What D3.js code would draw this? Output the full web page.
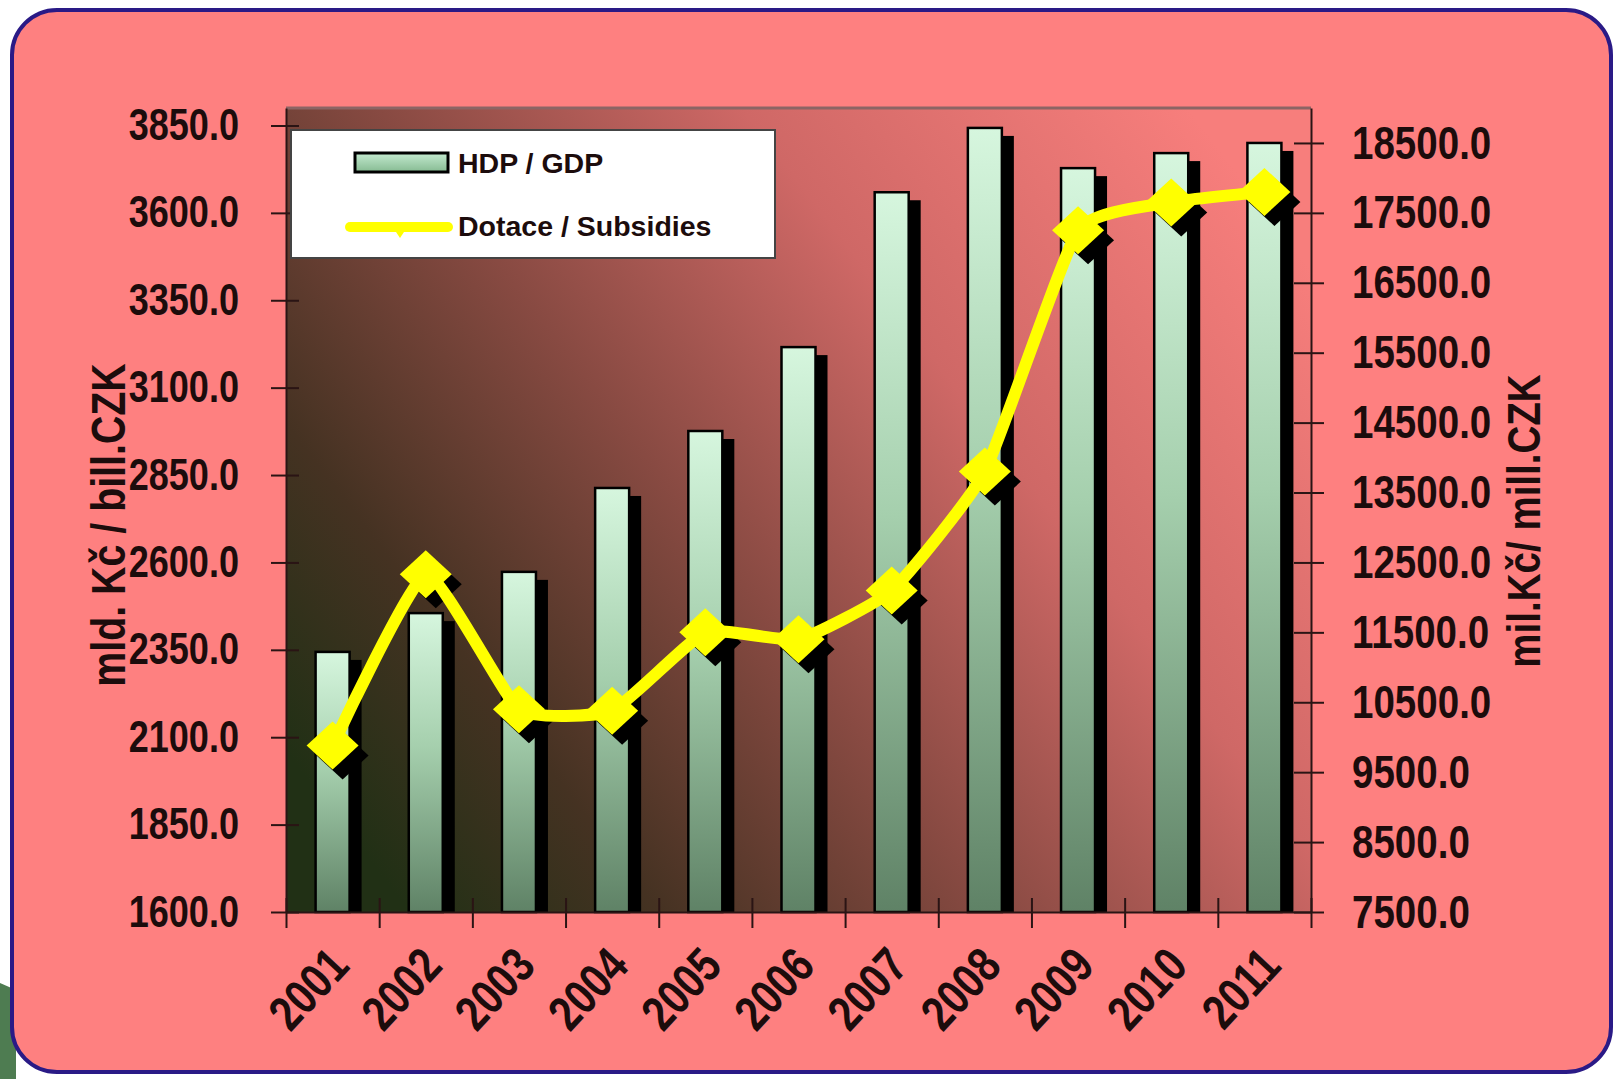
<!DOCTYPE html>
<head>
  <meta charset="utf-8">
  <script src="https://d3js.org/d3.v7.min.js"></script>
  <style>
    body { margin:0; background:#fff; }
    text { font-family: "Liberation Sans", Arial, sans-serif; font-weight: bold; fill: #1c0c0c; }
  </style>
</head>

<body>
<script>
  // data
  var years = ["2001", "2002", "2003", "2004", "2005", "2006", "2007", "2008", "2009", "2010", "2011"];
  var gdp = [2344, 2455, 2573, 2813, 2976, 3216, 3659, 3843, 3728, 3771, 3800];
  var subsidies = [9880, 12330, 10400, 10380, 11500, 11400, 12100, 13800, 17250, 17650, 17800];
  var leftTicks = [1600, 1850, 2100, 2350, 2600, 2850, 3100, 3350, 3600, 3850];
  var rightTicks = [7500, 8500, 9500, 10500, 11500, 12500, 13500, 14500, 15500, 16500, 17500, 18500];
  var seriesNames = ["HDP / GDP", "Dotace / Subsidies"];
  var axisTitles = ["mld. Kč / bill.CZK", "mil.Kč/ mill.CZK"];

  var W = 1616, H = 1079;
  var plot = {left: 286, top: 108, right: 1311, bottom: 912};
  var width = plot.right - plot.left,
      height = plot.bottom - plot.top;
  var narrow = 0.82; // no Arial Narrow here, squeeze Liberation Sans instead

  var svg = d3.select("body").append("svg")
    .attr("width", W)
    .attr("height", H);

  var defs = svg.append("defs");

  // plot background: dark on the left, pink on the right
  var bg = defs.append("linearGradient").attr("id", "plotBg")
    .attr("x1", 0).attr("y1", 0.8).attr("x2", 1).attr("y2", 0.2);
  [[0, "#213015"], [0.18, "#453222"], [0.42, "#884a42"], [0.68, "#cf6866"], [1, "#f77e7c"]].forEach(function(s) {
    bg.append("stop").attr("offset", s[0]).attr("stop-color", s[1]);
  });

  var barGrad = defs.append("linearGradient").attr("id", "barGrad")
    .attr("x1", 0).attr("y1", 0).attr("x2", 0).attr("y2", 1);
  [[0, "#d6f6de"], [0.45, "#a5cfad"], [1, "#5f8266"]].forEach(function(s) {
    barGrad.append("stop").attr("offset", s[0]).attr("stop-color", s[1]);
  });

  var legGrad = defs.append("linearGradient").attr("id", "legGrad")
    .attr("x1", 0).attr("y1", 0).attr("x2", 0).attr("y2", 1);
  legGrad.append("stop").attr("offset", 0).attr("stop-color", "#c4ead0");
  legGrad.append("stop").attr("offset", 1).attr("stop-color", "#86bb92");

  // bit of green slide background peeking out bottom-left
  svg.append("path")
    .attr("d", "M0,983 L16,990 L16,1079 L0,1079 Z")
    .attr("fill", "#4e7c51");

  // rounded slide frame
  svg.append("rect")
    .attr("x", 12).attr("y", 10)
    .attr("width", 1599).attr("height", 1062)
    .attr("rx", 45)
    .attr("fill", "#fe8080")
    .attr("stroke", "#2a1a86")
    .attr("stroke-width", 4);

  var g = svg.append("g")
    .attr("transform", "translate(" + plot.left + "," + plot.top + ")");

  var x = d3.scaleBand().domain(years).range([0, width]);
  var xEdge = d3.scaleLinear().domain([0, years.length]).range([0, width]);
  var yL = d3.scaleLinear().domain([1600, 3900]).range([height, 0]);
  var yR = d3.scaleLinear().domain([7500, 19000]).range([height, 0]);
  var cx = function(i) { return x(years[i]) + x.bandwidth() / 2; };

  g.append("rect")
    .attr("width", width)
    .attr("height", height)
    .attr("fill", "url(#plotBg)");

  g.append("line")
    .attr("x1", 0).attr("x2", width)
    .attr("y1", 0).attr("y2", 0)
    .attr("stroke", "#8c6464")
    .attr("stroke-width", 3);

  // bars + their drop shadows
  var bw = 34;
  g.selectAll(".barShadow")
    .data(gdp)
    .enter().append("rect")
    .attr("class", "barShadow")
    .attr("x", function(d, i) { return cx(i) - bw / 2 + 12; })
    .attr("y", function(d) { return yL(d) + 8; })
    .attr("width", bw)
    .attr("height", function(d) { return height - yL(d) - 8; })
    .attr("fill", "#000");

  g.selectAll(".bar")
    .data(gdp)
    .enter().append("rect")
    .attr("class", "bar")
    .attr("x", function(d, i) { return cx(i) - bw / 2; })
    .attr("y", function(d) { return yL(d); })
    .attr("width", bw)
    .attr("height", function(d) { return height - yL(d); })
    .attr("fill", "url(#barGrad)")
    .attr("stroke", "#000")
    .attr("stroke-width", 2.5);

  // subsidies line
  var diamond = "M0,-24 L26,0 L0,24 L-26,0 Z";

  g.selectAll(".mShadow")
    .data(subsidies)
    .enter().append("path")
    .attr("class", "mShadow")
    .attr("d", diamond)
    .attr("transform", function(d, i) { return "translate(" + (cx(i) + 10) + "," + (yR(d) + 10) + ")"; })
    .attr("fill", "#000");

  var line = d3.line()
    .x(function(d, i) { return cx(i); })
    .y(function(d) { return yR(d); })
    .curve(d3.curveCardinal.tension(0.55));

  g.append("path")
    .datum(subsidies)
    .attr("d", line)
    .attr("fill", "none")
    .attr("stroke", "#ffff00")
    .attr("stroke-width", 12)
    .attr("stroke-linejoin", "round");

  g.selectAll(".marker")
    .data(subsidies)
    .enter().append("path")
    .attr("class", "marker")
    .attr("d", diamond)
    .attr("transform", function(d, i) { return "translate(" + cx(i) + "," + yR(d) + ")"; })
    .attr("fill", "#ffff00");

  // left axis
  var axL = g.append("g")
    .call(d3.axisLeft(yL).tickValues(leftTicks).tickFormat(d3.format(".1f"))
      .tickSizeInner(15).tickSizeOuter(0).tickPadding(32));
  axL.selectAll("line").attr("x1", 13);
  axL.selectAll("text")
    .attr("x", 0)
    .attr("transform", "translate(-47,0) scale(" + narrow + ",1)")
    .style("font-size", "44px");

  // right axis
  var axR = g.append("g")
    .attr("transform", "translate(" + width + ",0)")
    .call(d3.axisRight(yR).tickValues(rightTicks).tickFormat(d3.format(".1f"))
      .tickSizeInner(13).tickSizeOuter(0).tickPadding(28));
  axR.selectAll("line").attr("x1", -17);
  axR.selectAll("text")
    .attr("x", 0)
    .attr("transform", "translate(41,0) scale(" + narrow + ",1)")
    .style("font-size", "47px");

  // bottom: tick marks at category edges, labels rotated
  var axE = g.append("g")
    .attr("transform", "translate(0," + height + ")")
    .call(d3.axisBottom(xEdge).tickValues(d3.range(0, years.length + 1))
      .tickFormat("").tickSizeInner(16).tickSizeOuter(0));
  axE.selectAll("line").attr("y1", -14);

  var axB = g.append("g")
    .attr("transform", "translate(0," + height + ")")
    .call(d3.axisBottom(x).tickSize(0));
  axB.select(".domain").remove();
  axB.selectAll("text")
    .attr("x", 0).attr("y", 0).attr("dy", "0.35em")
    .attr("text-anchor", "end")
    .attr("transform", "translate(6,44) rotate(-47) scale(" + narrow + ",1)")
    .style("font-size", "49px");

  [axL, axR, axE].forEach(function(a) {
    a.selectAll(".domain, line").attr("stroke", "#2a1414").attr("stroke-width", 2);
  });

  // axis titles
  svg.append("text")
    .attr("transform", "translate(125,525) rotate(-90) scale(" + narrow + ",1)")
    .attr("text-anchor", "middle")
    .style("font-size", "48px")
    .text(axisTitles[0]);

  svg.append("text")
    .attr("transform", "translate(1540,521) rotate(-90) scale(" + narrow + ",1)")
    .attr("text-anchor", "middle")
    .style("font-size", "47px")
    .text(axisTitles[1]);

  // legend
  var leg = svg.append("g").attr("class", "legend");
  leg.append("rect")
    .attr("x", 291).attr("y", 130)
    .attr("width", 484).attr("height", 128)
    .attr("fill", "#fff")
    .attr("stroke", "#444")
    .attr("stroke-width", 2);
  leg.append("rect")
    .attr("x", 355).attr("y", 153)
    .attr("width", 93).attr("height", 19)
    .attr("fill", "url(#legGrad)")
    .attr("stroke", "#000")
    .attr("stroke-width", 3);
  leg.append("text")
    .attr("x", 458).attr("y", 173)
    .style("font-size", "28.5px")
    .text(seriesNames[0]);
  leg.append("line")
    .attr("x1", 350).attr("x2", 448)
    .attr("y1", 227).attr("y2", 227)
    .attr("stroke", "#ffff00")
    .attr("stroke-width", 10)
    .attr("stroke-linecap", "round");
  leg.append("path")
    .attr("d", "M-6,0 L0,-6 L6,0 L0,9 Z")
    .attr("transform", "translate(400,229)")
    .attr("fill", "#ffff00");
  leg.append("text")
    .attr("x", 458).attr("y", 236)
    .style("font-size", "28.5px")
    .text(seriesNames[1]);
</script>
</body>
